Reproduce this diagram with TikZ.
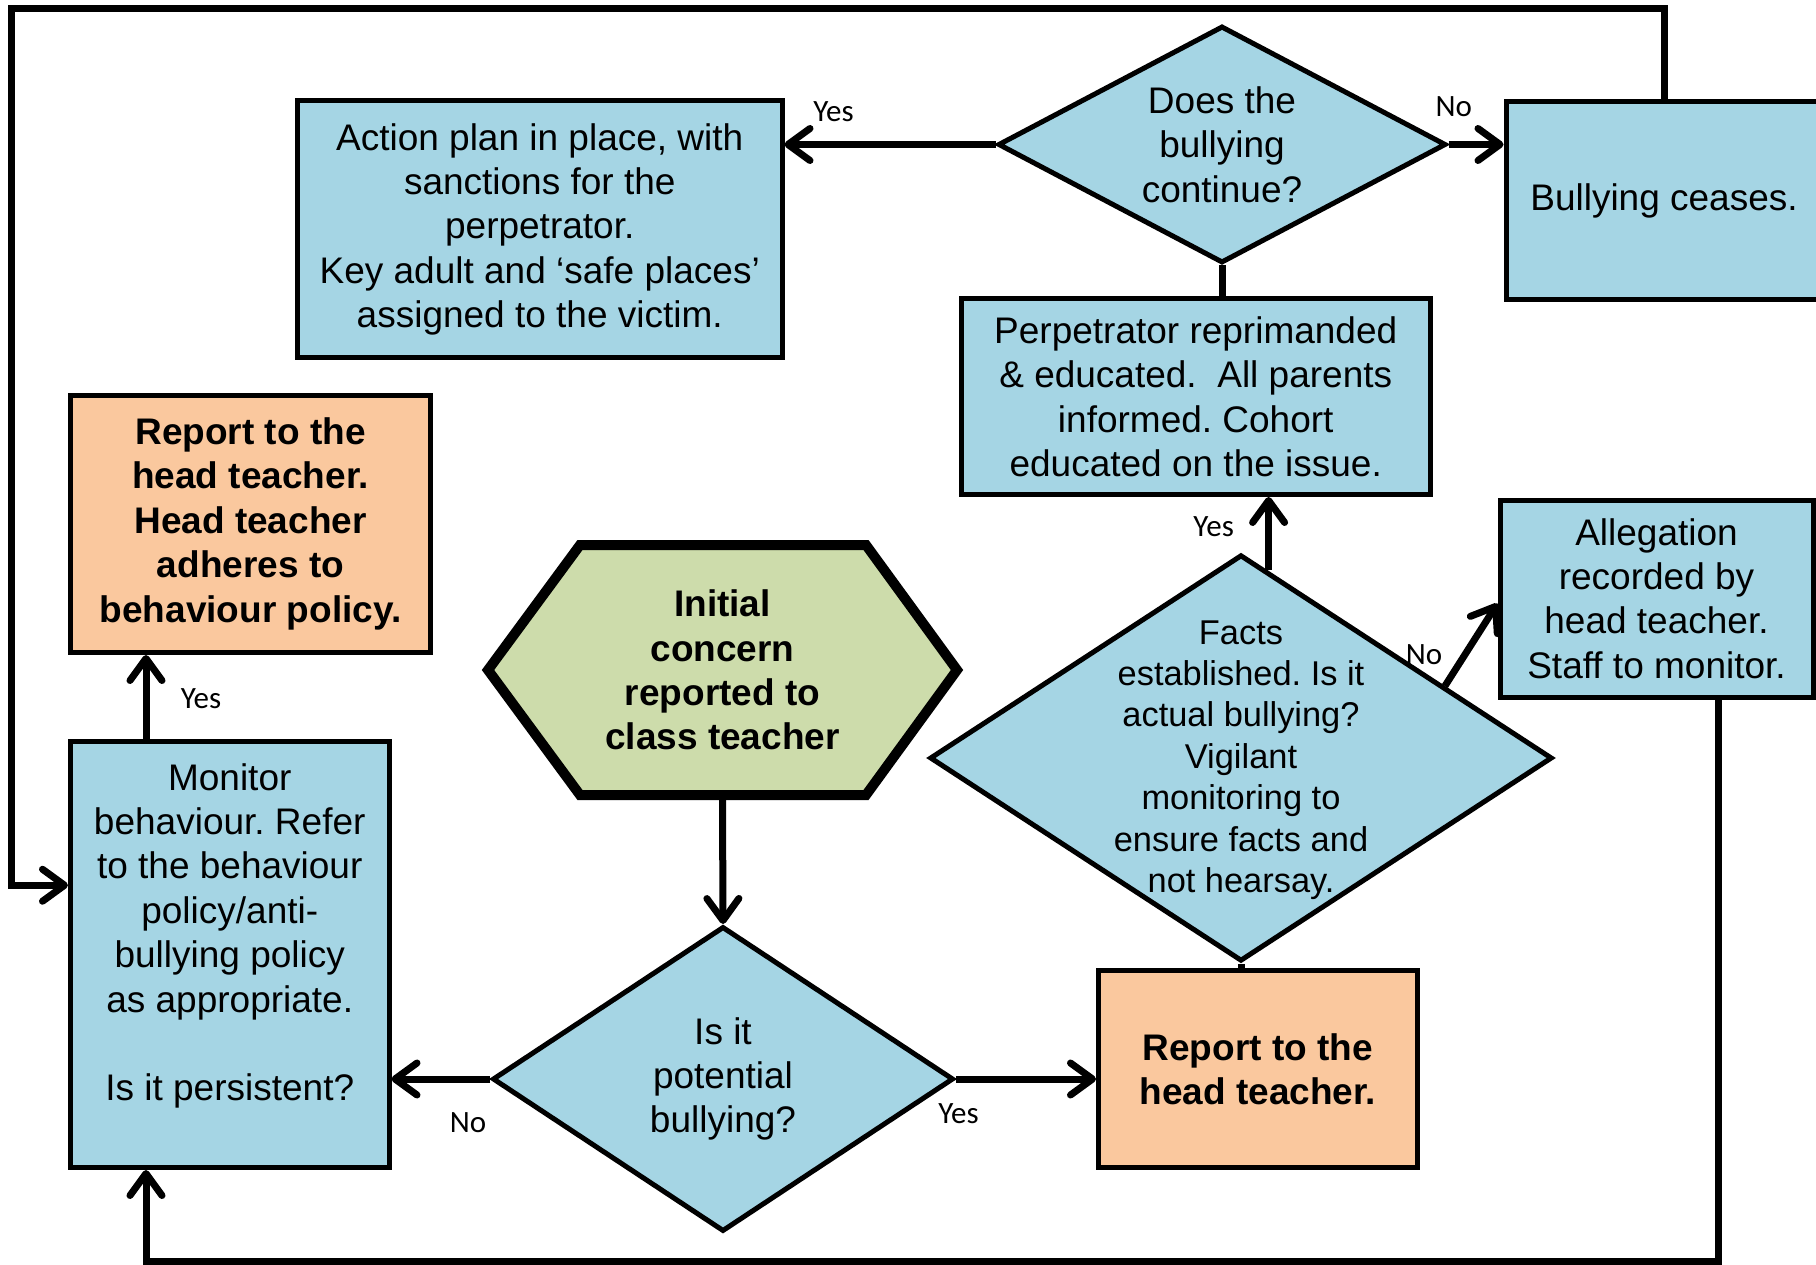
\documentclass[tikz,border=0pt]{standalone}
\usepackage{fontspec}
\setmainfont{Liberation Sans}
\newfontfamily\labfont{Carlito}
\usetikzlibrary{arrows.meta,shapes.geometric,calc}
\definecolor{boxblue}{HTML}{A5D5E4}
\definecolor{boxorange}{HTML}{FAC89E}
\definecolor{boxgreen}{HTML}{CDDCAB}
\frenchspacing
\begin{document}
\begin{tikzpicture}[x=1pt,y=-1pt,
  txt/.style={font=\fontsize{37}{44.4}\selectfont, align=center, inner sep=0pt},
  btxt/.style={font=\fontsize{37}{44.4}\selectfont\bfseries, align=center, inner sep=0pt},
  bluebox/.style={rectangle, draw=black, line width=5pt, fill=boxblue, txt},
  orangebox/.style={rectangle, draw=black, line width=5pt, fill=boxorange, btxt},
  dia/.style={diamond, draw=black, line width=5pt, fill=boxblue, inner sep=0pt},
  conn/.style={line width=7pt},
  arr/.style={conn, -{Straight Barb[length=22pt,width=32pt,round]}},
  lab/.style={font=\labfont\fontsize{31}{37}\selectfont, inner sep=0pt},
]
\useasboundingbox (0,0) rectangle (1816,1265);

% boxes
\node[bluebox, minimum width=484.5pt, minimum height=257.5pt] (action) at (539.75,229.25)
  {Action plan in place, with\\sanctions for the\\perpetrator.\\Key adult and ‘safe places’\\assigned to the victim.};
\node[bluebox, minimum width=316pt, minimum height=198pt] (ceases) at (1664,201) {Bullying ceases.};
\node[bluebox, minimum width=469.5pt, minimum height=195.5pt] (perp) at (1195.75,396.75)
  {Perpetrator reprimanded\\\& educated.\ \ All parents\\informed. Cohort\\educated on the issue.};
\node[bluebox, minimum width=313pt, minimum height=197pt] (alleg) at (1656.5,598.5)
  {Allegation\\recorded by\\head teacher.\\Staff to monitor.};
\node[orangebox, minimum width=360pt, minimum height=257.5pt] (rep1) at (250.5,523.75)
  {Report to the\\head teacher.\\Head teacher\\adheres to\\behaviour policy.};
\node[bluebox, minimum width=318.5pt, minimum height=426.5pt] (monitor) at (229.75,954.25)
  {Monitor\\behaviour. Refer\\to the behaviour\\policy/anti-\\bullying policy\\as appropriate.\\~\\Is it persistent?\\~};
\node[orangebox, minimum width=318.5pt, minimum height=197pt] (rep2) at (1257.75,1069)
  {Report to the\\head teacher.};

% hexagon
\draw[line width=10pt, fill=boxgreen] (488,670) -- (580,545) -- (866,545) -- (957,670) -- (866,795) -- (580,795) -- cycle;
\node[btxt, minimum width=475pt, minimum height=260pt, outer sep=0pt] (init) at (722.5,670)
  {Initial\\concern\\reported to\\class teacher};

% diamonds
\node[dia, minimum width=448pt, minimum height=237pt] (d1) at (1222,144.5) {};
\node[txt] (d1t) at (d1.center) {Does the\\bullying\\continue?};
\node[dia, minimum width=461pt, minimum height=305pt] (d3) at (723,1079) {};
\node[txt] (d3t) at (d3.center) {Is it\\potential\\bullying?};
\node[dia, minimum width=622.5pt, minimum height=406.5pt] (facts) at (1241,758) {};
\node[font=\fontsize{34.4}{41.4}\selectfont, align=center, inner sep=0pt] (factst) at (1241,760)
  {Facts\\established. Is it\\actual bullying?\\Vigilant\\monitoring to\\ensure facts and\\not hearsay.};

% connectors
\draw[arr] (d1.west) -- (d1.west -| action.east);
\draw[arr] (d1.east) -- (d1.east -| ceases.west);
\draw[conn] (d1.south) -- (d1.south |- perp.north);
\coordinate (fy) at ($(facts.north)!0.088!(facts.east)$);
\draw[arr] (fy) -- (fy |- perp.south);
\coordinate (fn) at ($(facts.north)!0.65!(facts.east)$);
\draw[arr] (fn) -- ($(alleg.west)+(0,5)$);
\draw[conn] (facts.south) -- (facts.south |- rep2.north);
\draw[arr] (init.south) -- (d3.north);
\draw[arr] (d3.west) -- (d3.west -| monitor.east);
\draw[arr] (d3.east) -- (d3.east -| rep2.west);
\coordinate (mx) at ($(monitor.north west)+(78,0)$);
\draw[arr] (mx) -- (mx |- rep1.south);
\coordinate (tl) at (11.5,8.5);
\coordinate (ml) at ($(monitor.west)+(0,-69)$);
\draw[arr] (ceases.north) |- (tl) |- (ml);
\coordinate (br) at (1718,1261);
\coordinate (mb) at (mx |- monitor.south);
\draw[arr] (br |- alleg.south) -- (br) -| (mb);

% labels
\node[lab] (l1) at (833.5,111.6) {Yes};
\node[lab] (l2) at (1453.7,107) {No};
\node[lab] (l3) at (1213.7,527) {Yes};
\node[lab] (l4) at (1424,655) {No};
\node[lab] (l5) at (201,699) {Yes};
\node[lab] (l6) at (468,1122.5) {No};
\node[lab] (l7) at (958.5,1113.5) {Yes};
\end{tikzpicture}
\end{document}
